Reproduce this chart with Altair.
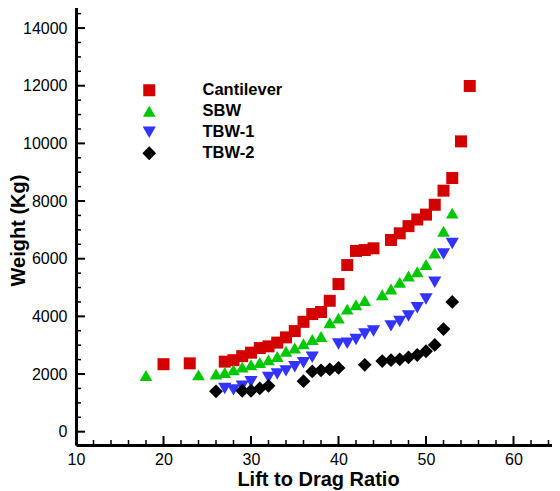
import altair as alt
import pandas as pd

series_names = ["Cantilever", "SBW", "TBW-1", "TBW-2"]
series_colors = ["#d40000", "#00c800", "#3333ff", "#000000"]
series_shapes = ["square", "triangle-up", "triangle-down", "diamond"]
series_sizes = [144, 190, 180, 230]

cant_ld = [20, 23, 27, 28, 29, 30, 31, 32, 33, 34, 35, 36, 37, 38, 39, 40, 41, 42, 43, 44,
           46, 47, 48, 49, 50, 51, 52, 53, 54, 55]
cant_w = [2340, 2370, 2430, 2480, 2620, 2740, 2900, 2960, 3090, 3270, 3490, 3810, 4080, 4150,
          4540, 5120, 5780, 6270, 6300, 6360, 6650, 6880, 7130, 7360, 7530, 7870, 8360, 8800,
          10070, 11990]

sbw_ld = [18, 24, 26, 27, 28, 29, 30, 31, 32, 33, 34, 35, 36, 37, 38, 39, 40, 41, 42, 43,
          45, 46, 47, 48, 49, 50, 51, 52, 53]
sbw_w = [1950, 1970, 2000, 2050, 2150, 2240, 2320, 2400, 2490, 2610, 2790, 2900, 3050, 3200,
         3300, 3780, 3940, 4250, 4400, 4550, 4750, 4950, 5180, 5400, 5550, 5800, 6200, 6950,
         7580]

tbw1_ld = [27, 28, 29, 30, 32, 33, 34, 35, 36, 37, 40, 41, 42, 43, 44, 46, 47, 48, 49, 50,
           51, 52, 53]
tbw1_w = [1500, 1450, 1580, 1730, 1880, 2000, 2110, 2250, 2390, 2580, 3040, 3070, 3200, 3390,
          3490, 3670, 3820, 4010, 4300, 4600, 5180, 6160, 6530]

tbw2_ld = [26, 29, 30, 31, 32, 36, 37, 38, 39, 40, 43, 45, 46, 47, 48, 49, 50, 51, 52, 53]
tbw2_w = [1400, 1420, 1420, 1500, 1590, 1750, 2090, 2130, 2160, 2210, 2320, 2450, 2480, 2510,
          2580, 2660, 2790, 3010, 3560, 4500]

x_major = [10, 20, 30, 40, 50, 60]
x_minor = [12, 14, 16, 18, 22, 24, 26, 28, 32, 34, 36, 38, 42, 44, 46, 48, 52, 54, 56, 58, 62, 64]
y_major = [0, 2000, 4000, 6000, 8000, 10000, 12000, 14000]
y_minor = [500, 1000, 1500, 2500, 3000, 3500, 4500, 5000, 5500, 6500, 7000, 7500, 8500, 9000,
           9500, 10500, 11000, 11500, 12500, 13000, 13500, 14500]

rows = []
for name, lds, ws in zip(series_names, [cant_ld, sbw_ld, tbw1_ld, tbw2_ld],
                         [cant_w, sbw_w, tbw1_w, tbw2_w]):
    for a, b in zip(lds, ws):
        rows.append({"series": name, "ld": a, "w": b})
df = pd.DataFrame(rows)

W, H = 476, 440
FONT = "Liberation Sans"

xs = alt.Scale(domain=[10, 10 + W / 8.75], nice=False, zero=False)
ys = alt.Scale(domain=[-462, 14800], nice=False, zero=False)

x_axis = alt.Axis(values=x_major, format="d", title="Lift to Drag Ratio", grid=False,
                  ticks=False, tickSize=0, domain=True, domainColor="black", domainWidth=3,
                  labelFont=FONT, labelFontSize=16, labelColor="black", labelPadding=6,
                  labelFlush=False, labelOverlap=False,
                  titleFont=FONT, titleFontSize=20, titleFontWeight="bold", titleColor="black",
                  titleBaseline="alphabetic", titleY=40, titleX=242)
y_axis = alt.Axis(values=y_major, format="d", title="Weight (Kg)", grid=False,
                  ticks=False, tickSize=0, domain=True, domainColor="black", domainWidth=3,
                  labelFont=FONT, labelFontSize=16, labelColor="black", labelPadding=9,
                  labelOverlap=False,
                  titleFont=FONT, titleFontSize=20, titleFontWeight="bold", titleColor="black",
                  titleBaseline="alphabetic", titleX=-52, titleY=225, titleAngle=270)

leg = alt.Legend(orient="none", legendX=65, legendY=77, padding=0,
                 labelFont=FONT, labelFontSize=16.5, labelFontWeight="bold", labelColor="black",
                 labelOffset=45, rowPadding=4, symbolStrokeWidth=0, labelLimit=300)

points = alt.Chart(df).mark_point(filled=True, opacity=1, strokeWidth=0).encode(
    x=alt.X("ld:Q", scale=xs, axis=x_axis),
    y=alt.Y("w:Q", scale=ys, axis=y_axis),
    color=alt.Color("series:N", scale=alt.Scale(domain=series_names, range=series_colors),
                    legend=leg, title=None),
    shape=alt.Shape("series:N", scale=alt.Scale(domain=series_names, range=series_shapes),
                    legend=leg, title=None),
    size=alt.Size("series:N", scale=alt.Scale(domain=series_names, range=series_sizes),
                  legend=leg, title=None),
)

def xticks(vals, length, sw):
    return alt.Chart(pd.DataFrame({"v": vals})).mark_rule(color="black", strokeWidth=sw).encode(
        x=alt.X("v:Q", scale=xs, axis=x_axis),
        y=alt.value(H), y2=alt.value(H - length))

def yticks(vals, length, sw):
    return alt.Chart(pd.DataFrame({"v": vals})).mark_rule(color="black", strokeWidth=sw).encode(
        y=alt.Y("v:Q", scale=ys, axis=y_axis),
        x=alt.value(0), x2=alt.value(length))

chart = alt.layer(
    xticks(x_major, 9, 2), xticks(x_minor, 5, 1.5),
    yticks(y_major, 9, 2), yticks(y_minor, 5, 1.5),
    points,
).properties(
    width=W, height=H,
    autosize=alt.AutoSizeParams(type="none"),
    padding={"left": 68, "top": -3, "right": 0, "bottom": 50},
    background="white",
).configure_view(strokeWidth=0)

chart.save("out.html", embed_options={"renderer": "svg", "actions": False})
